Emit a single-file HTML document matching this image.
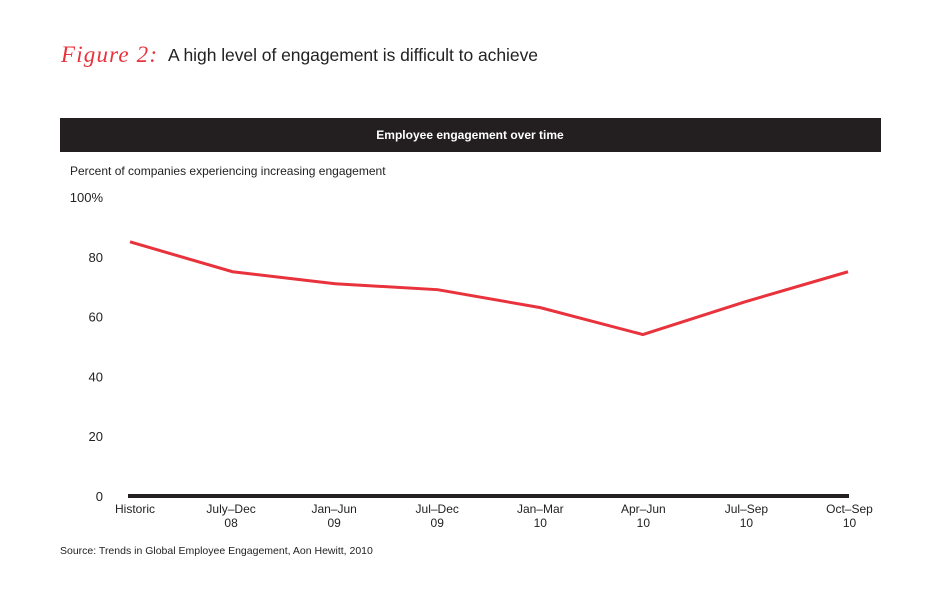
<!DOCTYPE html>
<html><head><meta charset="utf-8"><style>
body{margin:0;background:#fff;width:950px;height:591px;overflow:hidden;font-family:"Liberation Sans",sans-serif}
</style></head><body>
<svg width="950" height="591" xmlns="http://www.w3.org/2000/svg" font-family="Liberation Sans, sans-serif">
<text x="61" y="62" font-size="23" fill="#e8323c" font-style="italic" font-family="Liberation Serif, serif" textLength="96">Figure 2:</text>
<text x="168" y="61" font-size="17.5" fill="#222" textLength="370">A high level of engagement is difficult to achieve</text>
<rect x="60" y="118" width="821" height="34" fill="#231f20"/>
<text x="470" y="139" font-size="12" font-weight="bold" fill="#fff" text-anchor="middle">Employee engagement over time</text>
<text x="70" y="175" font-size="12" fill="#222">Percent of companies experiencing increasing engagement</text>
<g id="yt"></g><g id="xt"></g>
<rect x="128" y="494" width="721" height="4" fill="#231f20"/>
<path id="ln" fill="none" stroke="#e8323c" stroke-width="3"/>
<text x="60" y="554" font-size="10.5" fill="#222">Source: Trends in Global Employee Engagement, Aon Hewitt, 2010</text>
</svg>
<script>
const categories=[["Historic",""],["July–Dec","08"],["Jan–Jun","09"],["Jul–Dec","09"],["Jan–Mar","10"],["Apr–Jun","10"],["Jul–Sep","10"],["Oct–Sep","10"]];
const values=[85,75,71,69,63,54,65,75];
const yTicks=[0,20,40,60,80,100];
const yTickLabels=["0","20","40","60","80","100%"];
const NS="http://www.w3.org/2000/svg";
const y=v=>496-v*2.99;
const x=i=>130+i*(848-130)/(categories.length-1);
const yt=document.getElementById('yt'),xt=document.getElementById('xt');
yTicks.forEach((t,i)=>{const e=document.createElementNS(NS,'text');


e.setAttribute('x',103);e.setAttribute('y',y(t)+5);e.setAttribute('font-size','13');e.setAttribute('fill','#222');e.setAttribute('text-anchor','end');e.textContent=yTickLabels[i];yt.appendChild(e);});
categories.forEach((c,i)=>{c.forEach((s,j)=>{if(!s)return;const e=document.createElementNS(NS,'text');


e.setAttribute('x',i==0?135:x(i)+i*0.5-2);e.setAttribute('y',513+j*14);e.setAttribute('font-size','12');e.setAttribute('fill','#222');e.setAttribute('text-anchor','middle');e.textContent=s;xt.appendChild(e);});});
document.getElementById('ln').setAttribute('d',values.map((v,i)=>(i?'L':'M')+x(i)+','+y(v)).join(''));
</script>
</body></html>
